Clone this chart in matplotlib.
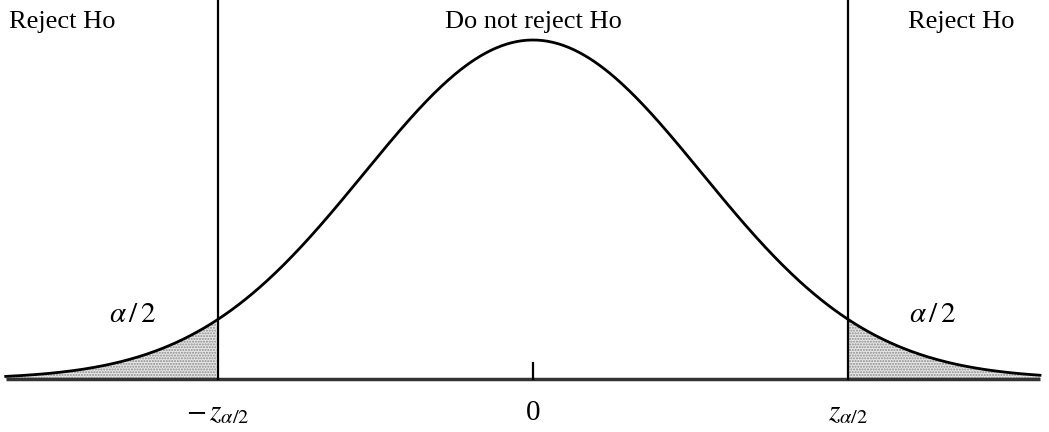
import numpy as np
import matplotlib.pyplot as plt

plt.rcParams['font.family'] = ['Liberation Serif', 'DejaVu Serif']
plt.rcParams['mathtext.fontset'] = 'stix'
plt.rcParams['hatch.color'] = '#8c8c8c'
plt.rcParams['hatch.linewidth'] = 1.0

# chart values (standard normal, z in sigma units)
z_crit = 1.865
z_left, z_right = -3.12, 3.0
region_labels = ['Reject Ho', 'Do not reject Ho', 'Reject Ho']
tail_label = r'$\alpha\,/\,2$'
tick_labels = [r'$-\,z_{\alpha/2}$', '0', r'$z_{\alpha/2}$']

z = np.linspace(z_left, z_right, 600)
dens = np.exp(-z ** 2 / 2)

cx, sx = 533, 169   # pixel centre and pixels per sigma
fig = plt.figure(figsize=(10.49, 4.32), dpi=100)
ax = fig.add_axes([0, 0, 1, 1])
ax.set_xlim(-cx / sx, (1049 - cx) / sx)
ax.set_ylim(-53 / 339, 379 / 339)
ax.axis('off')

# shaded tails
for mask in (z <= -z_crit, z >= z_crit):
    ax.fill_between(z[mask], 0, dens[mask], facecolor='#e6e6e6',
                    edgecolor='none', hatch='......', linewidth=0)

ax.plot(z, dens, color='black', lw=2)
ax.plot([z_left, z_right], [0, 0], color='#333333', lw=2.5, solid_capstyle='butt')
ax.plot([-z_crit, -z_crit], [0, 379 / 339], color='black', lw=1.6)
ax.plot([z_crit, z_crit], [0, 379 / 339], color='black', lw=1.6)
ax.plot([0, 0], [0, 16 / 339], color='black', lw=1.6)

ytop = (379 - 22) / 339
ax.text(z_left + 0.02, ytop, region_labels[0], fontsize=19, ha='left', va='center')
ax.text(0, ytop, region_labels[1], fontsize=19, ha='center', va='center')
ax.text((1015 - cx) / sx, ytop, region_labels[2], fontsize=19, ha='right', va='center')

ya = (379 - 315) / 339
ax.text((133 - cx) / sx, ya, tail_label, fontsize=21, ha='center', va='center')
ax.text((933 - cx) / sx, ya, tail_label, fontsize=21, ha='center', va='center')

yb = -(413 - 379) / 339
for xv, lab in zip([-z_crit, 0, z_crit], tick_labels):
    ax.text(xv, yb, lab, fontsize=21, ha='center', va='center')

fig.savefig('out.png', dpi=100)
